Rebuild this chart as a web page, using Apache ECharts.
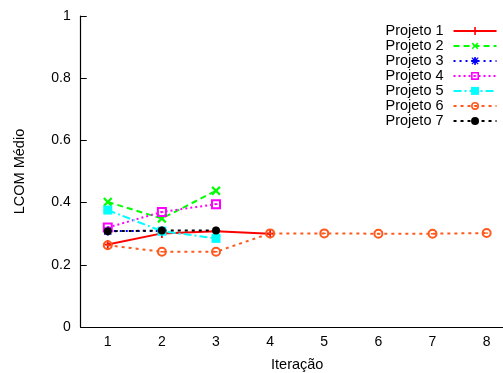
<!DOCTYPE html>
<html>
<head>
<meta charset="utf-8">
<script src="https://cdn.jsdelivr.net/npm/echarts@6/dist/echarts.min.js"></script>
<style>
  html, body { margin: 0; padding: 0; background: #fff; }
  #chart { width: 503px; height: 373px; }
</style>
</head>
<body>
<div id="chart"></div>
<script>
// iterations on the x axis
var iteracoes = ['1', '2', '3', '4', '5', '6', '7', '8'];
var yTicks = [0, 0.2, 0.4, 0.6, 0.8, 1];

// LCOM medio per project (null = no data)
var projeto1 = [0.265, 0.301, 0.308, 0.300, null, null, null, null];
var projeto2 = [0.402, 0.349, 0.438, null, null, null, null, null];
var projeto3 = [0.309, 0.309, null, null, null, null, null, null];
var projeto4 = [0.320, 0.370, 0.395, null, null, null, null, null];
var projeto5 = [0.376, 0.308, 0.285, null, null, null, null, null];
var projeto6 = [0.263, 0.242, 0.242, 0.301, 0.301, 0.300, 0.300, 0.302];
var projeto7 = [0.308, 0.310, 0.310, null, null, null, null, null];

var nomes = ['Projeto 1', 'Projeto 2', 'Projeto 3', 'Projeto 4', 'Projeto 5', 'Projeto 6', 'Projeto 7'];

var plusPath = 'path://M4,0H6V4H10V6H6V10H4V6H0V4H4Z';
var boxPath = 'path://M0,0H10V10H0Z M2,2V8H8V2Z M3.5,4.2H6.5V5.8H3.5Z';
var ringPath = 'path://M5,0A5,5,0,1,1,5,10A5,5,0,1,1,5,0Z M5,2A3,3,0,1,0,5,8A3,3,0,1,0,5,2Z M3.5,4.3H6.5V5.7H3.5Z';
var starPath = 'path://M4,0H6V3L8.5,0.5L9.5,1.5L7,4H10V6H7L9.5,8.5L8.5,9.5L6,7V10H4V7L1.5,9.5L0.5,8.5L3,6H0V4H3L0.5,1.5L1.5,0.5L4,3Z M2,2H8V8H2Z';

function serie(nome, dados, cor, tipo, simbolo, tam, rot) {
    return {
        name: nome,
        type: 'line',
        data: dados,
        connectNulls: false,
        symbol: simbolo,
        symbolSize: tam,
        symbolRotate: rot || 0,
        showAllSymbol: true,
        animation: false,
        itemStyle: { color: cor },
        lineStyle: { color: cor, width: 2, type: tipo }
    };
}

var chart = echarts.init(document.getElementById('chart'), null, { renderer: 'canvas' });

var option = {
    animation: false,
    backgroundColor: '#fff',
    textStyle: { fontFamily: 'Liberation Sans, Arial, sans-serif' },
    grid: { left: 80.7, width: 433, top: 16, height: 311, containLabel: false, outerBoundsMode: 'none' },
    legend: {
        orient: 'vertical',
        left: 385.5,
        top: 23.4,
        padding: 0,
        align: 'right',
        itemWidth: 43,
        itemHeight: 10,
        itemGap: 0,
        textStyle: { fontSize: 14.5, lineHeight: 14.6, color: '#000', padding: [0, 5, 0, 0], fontFamily: 'Liberation Sans, Arial, sans-serif' },
        data: nomes
    },
    xAxis: {
        type: 'category',
        data: iteracoes,
        boundaryGap: true,
        name: 'Iteração',
        nameLocation: 'middle',
        nameGap: 30,
        nameTextStyle: { fontSize: 14.5, color: '#000' },
        axisLine: { lineStyle: { color: '#000', width: 1.2 } },
        axisTick: { inside: true, alignWithLabel: true, length: 5, lineStyle: { color: '#000' } },
        axisLabel: { fontSize: 14, color: '#000', margin: 8 },
        splitLine: { show: false }
    },
    yAxis: {
        type: 'value',
        min: yTicks[0],
        max: yTicks[yTicks.length - 1],
        interval: 0.2,
        name: 'LCOM Médio',
        nameLocation: 'middle',
        nameGap: 53,
        nameTextStyle: { fontSize: 14.5, color: '#000' },
        axisLine: { show: true, lineStyle: { color: '#000', width: 1.2 } },
        axisTick: { show: true, inside: true, length: 6, lineStyle: { color: '#000' } },
        axisLabel: { fontSize: 14, color: '#000', margin: 10 },
        splitLine: { show: false }
    },
    series: [
        serie(nomes[0], projeto1, '#ff0000', 'solid', plusPath, 9),
        serie(nomes[1], projeto2, '#00ff00', [6, 4], plusPath, 11, 45),
        serie(nomes[2], projeto3, '#0000ff', [2, 4], starPath, 9),
        serie(nomes[3], projeto4, '#ff00ff', [2, 3], boxPath, 10),
        serie(nomes[4], projeto5, '#00ffff', [8, 3, 2, 3], 'rect', 9),
        serie(nomes[5], projeto6, '#ff5a1e', [3, 4], ringPath, 10),
        serie(nomes[6], projeto7, '#000000', [3, 4], 'circle', 8)
    ]
};

chart.setOption(option);
</script>
</body>
</html>
